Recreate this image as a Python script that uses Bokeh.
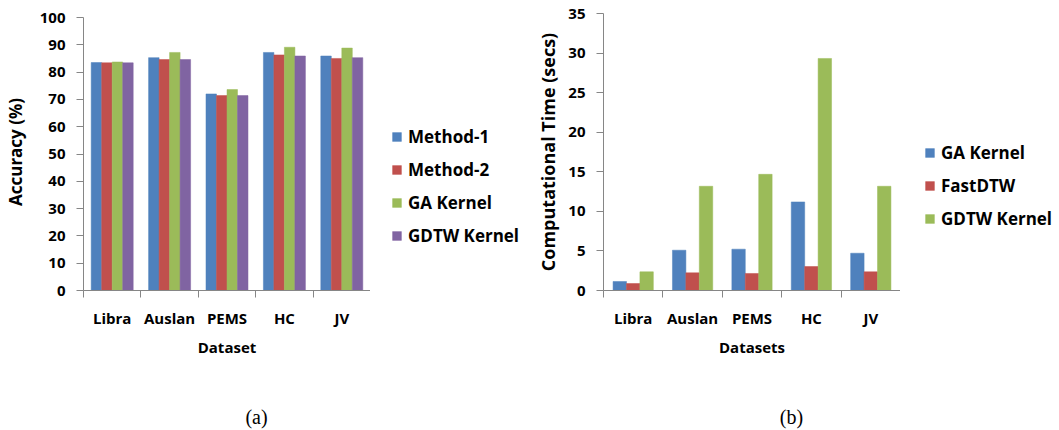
import numpy as np
from bokeh.plotting import figure
from bokeh.layouts import row, column
from bokeh.models import (FixedTicker, Legend, LegendItem, Label, Range1d,
                          ColumnDataSource, CustomJSTickFormatter)
from bokeh.embed import file_html
from bokeh.resources import INLINE

# ---------------- data ----------------
datasets = ["Libra", "Auslan", "PEMS", "HC", "JV"]

acc_series = ["Method-1", "Method-2", "GA Kernel", "GDTW Kernel"]
acc_method1 = [83.5, 85.3, 72.0, 87.2, 85.9]
acc_method2 = [83.4, 84.6, 71.4, 86.3, 85.0]
acc_ga = [83.7, 87.2, 73.6, 89.1, 88.8]
acc_gdtw = [83.4, 84.6, 71.4, 85.9, 85.3]
acc_ticks = list(range(0, 101, 10))

time_series = ["GA Kernel", "FastDTW", "GDTW Kernel"]
time_ga = [1.14, 5.09, 5.22, 11.19, 4.71]
time_fastdtw = [0.88, 2.23, 2.15, 3.03, 2.36]
time_gdtw = [2.36, 13.17, 14.68, 29.32, 13.17]
time_ticks = list(range(0, 36, 5))

captions = ["(a)", "(b)"]

BLUE, RED, GREEN, PURPLE = "#4F81BD", "#C0504D", "#9BBB59", "#8064A2"
FONT = "Open Sans"
AXIS_GRAY = "#868686"
CHART_H = 390
TOP = 13          # frames of the row are aligned: common top border
FRAME_PX = 277    # common frame height (px)


def blank_fig(width, height):
    p = figure(width=width, height=height, output_backend="svg",
               toolbar_location=None, x_range=Range1d(0, 1),
               y_range=Range1d(0, 1), x_axis_location=None,
               y_axis_location=None, min_border_left=0, min_border_right=0,
               min_border_top=0, min_border_bottom=0)
    p.outline_line_color = None
    p.xgrid.visible = False
    p.ygrid.visible = False
    return p


def make_chart(values, colors, bar_w, ymax, plot_px, yticks, ylabel,
               ylabel_size, ylabel_standoff, xlabel, width, left):
    n = len(datasets)
    y_end = ymax * FRAME_PX / plot_px
    p = figure(width=width, height=CHART_H, output_backend="svg",
               toolbar_location=None, x_range=Range1d(0, n),
               y_range=Range1d(0, y_end), min_border_left=left,
               min_border_right=0, min_border_top=TOP,
               min_border_bottom=CHART_H - TOP - FRAME_PX)
    p.outline_line_color = None
    p.xgrid.visible = False
    p.ygrid.visible = False

    k = len(values)
    base = np.arange(n) + 0.5
    for i, (vals, col) in enumerate(zip(values, colors)):
        src = ColumnDataSource(dict(x=base + (i - (k - 1) / 2) * bar_w,
                                    top=vals))
        p.vbar(x="x", top="top", width=bar_w, bottom=0, source=src,
               fill_color=col, line_color=col, line_width=0.5)

    # x axis: labels at category centres, ticks at category boundaries
    xa = p.xaxis[0]
    xa.ticker = FixedTicker(ticks=list(base), minor_ticks=list(range(n + 1)))
    xa.formatter = CustomJSTickFormatter(args=dict(names=datasets),
                                         code="return names[Math.floor(tick)]")
    xa.major_tick_out = 0
    xa.major_tick_in = 0
    xa.minor_tick_out = 7
    xa.minor_tick_in = 0
    xa.minor_tick_line_color = AXIS_GRAY
    xa.axis_line_color = AXIS_GRAY
    xa.major_label_standoff = 10
    xa.axis_label = xlabel
    xa.axis_label_standoff = 6

    ya = p.yaxis[0]
    ya.bounds = (0, ymax)
    ya.ticker = FixedTicker(ticks=yticks)
    ya.major_tick_out = 7
    ya.major_tick_in = 0
    ya.minor_tick_line_color = None
    ya.axis_line_color = AXIS_GRAY
    ya.major_tick_line_color = AXIS_GRAY
    ya.major_label_standoff = 11
    ya.axis_label = ylabel
    ya.axis_label_standoff = ylabel_standoff

    for ax in (xa, ya):
        ax.major_label_text_font = FONT
        ax.major_label_text_font_style = "bold"
        ax.major_label_text_font_size = "15px"
        ax.major_label_text_color = "#000000"
        ax.axis_label_text_font = FONT
        ax.axis_label_text_font_style = "bold"
        ax.axis_label_text_font_size = "15px"
        ax.axis_label_text_color = "#000000"
    ya.axis_label_text_font_size = ylabel_size
    return p


def make_legend(names, colors, width, loc, spacing):
    p = blank_fig(width, CHART_H)
    items = []
    for nm, col in zip(names, colors):
        # zero-size glyph: only used to draw the legend swatch
        r = p.vbar(x=[0], top=[0], bottom=[0], width=0, fill_color=col,
                   line_color=col, line_width=0.5)
        items.append(LegendItem(label=nm, renderers=[r]))
    leg = Legend(items=items, location=loc, orientation="vertical",
                 glyph_width=11, glyph_height=11, label_standoff=6,
                 label_height=18, spacing=spacing, padding=0, margin=0,
                 border_line_color=None, background_fill_alpha=0,
                 label_text_font=FONT, label_text_font_style="bold",
                 label_text_font_size="17px", label_text_color="#000000")
    p.add_layout(leg)
    return p


p1 = make_chart([acc_method1, acc_method2, acc_ga, acc_gdtw],
                [BLUE, RED, GREEN, PURPLE], 0.183, 100, 273, acc_ticks,
                "Accuracy (%)", "17px", 10, "Dataset", 370, 82)
l1 = make_legend(acc_series, [BLUE, RED, GREEN, PURPLE], 158, (21, 43), 10)

p2 = make_chart([time_ga, time_fastdtw, time_gdtw], [BLUE, RED, GREEN],
                0.226, 35, 277, time_ticks, "Computational Time (secs)",
                "18px", 5, "Datasets", 372, 75)
l2 = make_legend(time_series, [BLUE, RED, GREEN], 159, (24, 60), 10)

cap = blank_fig(1059, 430 - CHART_H)
for txt, cx in zip(captions, [256, 791]):
    cap.add_layout(Label(x=cx, y=14, x_units="screen", y_units="screen",
                         text=txt, text_align="center",
                         text_baseline="middle", text_font="Liberation Serif",
                         text_font_size="20px", text_color="#000000"))

layout = column(row(p1, l1, p2, l2), cap)
open("out.html", "w").write(file_html(layout, INLINE))
